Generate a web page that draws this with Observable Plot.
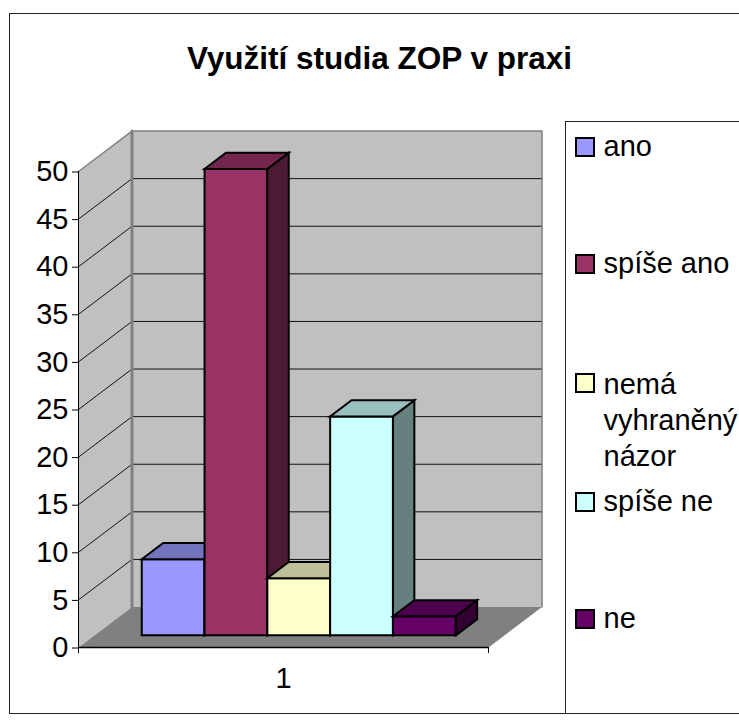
<!DOCTYPE html>
<html lang="cs">
<head>
<meta charset="utf-8">
<title>Využití studia ZOP v praxi</title>
<script src="https://cdn.jsdelivr.net/npm/d3@7"></script>
<script src="https://cdn.jsdelivr.net/npm/@observablehq/plot@0.6"></script>
<style>
  html, body { margin: 0; padding: 0; background: #fff; overflow: hidden; }
  #page { position: relative; width: 739px; height: 728px; font-family: "Liberation Sans", Arial, sans-serif; color: #000; }
  #page svg { position: absolute; left: 0; top: 0; }
  #frame { position: absolute; left: 9px; top: 13px; width: 740px; height: 699px; border: 1.5px solid #222; box-sizing: content-box; }
  #title { position: absolute; left: 0; width: 759px; top: 38px; text-align: center; font-weight: bold; font-size: 31.5px; line-height: 40px; }
  #legend { position: absolute; left: 565px; top: 121px; width: 200px; height: 591px; border: 1.5px solid #222; background: #fff; }
  .item { position: absolute; left: 37.5px; font-size: 29px; line-height: 36px; width: 140px; }
  .swatch { position: absolute; left: 8.5px; width: 16px; height: 16px; border: 2px solid #000; }
</style>
</head>
<body>
<div id="page">
  <div id="frame"></div>
  <div id="title"></div>
  <div id="legend"></div>
</div>
<script>
const chartTitle = "Využití studia ZOP v praxi";
const categoryLabel = "1";
const seriesNames = ["ano", "spíše ano", "nemá vyhraněný názor", "spíše ne", "ne"];
const seriesLines = [["ano"], ["spíše ano"], ["nemá", "vyhraněný", "názor"], ["spíše ne"], ["ne"]];
const seriesValues = [8, 49, 6, 23, 2];
const seriesColors = ["#9999FF", "#993366", "#FFFFCC", "#CCFFFF", "#660066"];
const valueTicks = [0, 5, 10, 15, 20, 25, 30, 35, 40, 45, 50];
const legendRowTops = [14.5, 131.5, 250.5, 369.5, 486.5];
const legendTextTops = [5.5, 122.5, 244, 361, 477.5];

// Oblique projection of the 3-D box: depth 0 = front plane, depth 1 = back wall.
const depthX = 53.5 / 410; // in category widths
const depthY = 4.25;       // in value units
const barFront = 0.3, barBack = 0.7;
const barGap = 47.2 / 410, barWidth = 62.8 / 410;

const P = (face, c, v, d, fill) => ({face, x: c + d * depthX, y: v + d * depthY, fill});
const quad = (face, fill, pts) => pts.map(([c, v, d]) => P(face, c, v, d, fill));

const shade = (color, k) => {
  const c = d3.rgb(color);
  return d3.rgb(c.r * k, c.g * k, c.b * k).formatHex();
};

const leftWall = quad("left", "#c0c0c0", [[0, 0, 0], [0, 50, 0], [0, 50, 1], [0, 0, 1]]);
const backWall = quad("back", "#c0c0c0", [[0, 0, 1], [0, 50, 1], [1, 50, 1], [1, 0, 1]]);
const floor = quad("floor", "#808080", [[0, 0, 0], [1, 0, 0], [1, 0, 1], [0, 0, 1]]);
const gridValues = valueTicks.filter((v) => v > 0 && v < 50);
const gridBack = gridValues.flatMap((v) => [P("g" + v, 0, v, 1), P("g" + v, 1, v, 1)]);
const gridLeft = gridValues.flatMap((v) => [P("l" + v, 0, v, 0), P("l" + v, 0, v, 1)]);

const barFaces = seriesValues.flatMap((v, i) => {
  const a = barGap + i * barWidth, b = a + barWidth, col = seriesColors[i];
  return [
    ...quad(`f${i}`, col, [[a, 0, barFront], [b, 0, barFront], [b, v, barFront], [a, v, barFront]]),
    ...quad(`s${i}`, shade(col, 0.5), [[b, 0, barFront], [b, 0, barBack], [b, v, barBack], [b, v, barFront]]),
    ...quad(`t${i}`, shade(col, 0.75), [[a, v, barFront], [b, v, barFront], [b, v, barBack], [a, v, barBack]])
  ];
});

const poly = (data, o = {}) => Plot.line(data, {
  x: "x", y: "y", z: "face", fill: "fill", curve: "linear-closed",
  stroke: "none", strokeLinejoin: "miter", strokeMiterlimit: 4, ...o
});
const seg = (data, o = {}) => Plot.line(data, {x: "x", y: "y", z: "face", stroke: "#111", strokeWidth: 1, ...o});

const font = {fontFamily: "'Liberation Sans', Arial, sans-serif", fontSize: 29};

const chart = Plot.plot({
  width: 739, height: 728,
  marginLeft: 78, marginRight: 251, marginTop: 171, marginBottom: 81,
  x: {domain: [0, 1]},
  y: {domain: [0, 50]},
  color: {type: "identity"},
  style: {background: "transparent", fontFamily: font.fontFamily, color: "#000", overflow: "visible"},
  marks: [
    poly(leftWall),
    poly(backWall),
    seg(gridBack),
    seg(gridLeft),
    poly(floor),
    seg(leftWall.slice(1, 3), {z: null, stroke: "#808080", strokeWidth: 1.5}),
    seg(backWall.slice(0, 2), {z: null, stroke: "#808080", strokeWidth: 3}),
    seg(backWall.slice(1), {z: null, stroke: "#808080", strokeWidth: 1.5}),
    poly(barFaces, {stroke: "#000", strokeWidth: 2}),
    Plot.ruleX([0], {y1: 0, y2: 50, stroke: "#000", strokeWidth: 1}),
    Plot.ruleY([0], {x1: 0, x2: 1, stroke: "#000", strokeWidth: 1.3}),
    Plot.axisY({ticks: valueTicks, tickSize: 6, tickPadding: 4, dy: 0.5, label: null, line: false, ...font}),
    Plot.axisX({ticks: [0, 1], tickSize: 6, tickFormat: () => "", label: null}),
    Plot.axisX({ticks: [0.5], tickSize: 0, tickPadding: 20, tickFormat: () => categoryLabel, label: null, ...font})
  ]
});

const page = document.getElementById("page");
page.insertBefore(chart, document.getElementById("title"));
document.getElementById("title").textContent = chartTitle;

const legend = document.getElementById("legend");
seriesNames.forEach((name, i) => {
  const swatch = document.createElement("div");
  swatch.className = "swatch";
  swatch.style.top = legendRowTops[i] + "px";
  swatch.style.background = seriesColors[i];
  legend.appendChild(swatch);
  const item = document.createElement("div");
  item.className = "item";
  item.style.top = legendTextTops[i] + "px";
  item.innerHTML = seriesLines[i].join("<br>");
  legend.appendChild(item);
});
</script>
</body>
</html>
